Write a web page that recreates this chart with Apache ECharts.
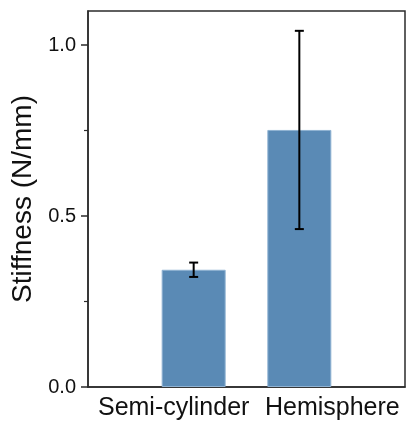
<!DOCTYPE html>
<html>
<head>
<meta charset="utf-8">
<script src="https://cdn.jsdelivr.net/npm/echarts@6/dist/echarts.min.js"></script>
<style>
html,body{margin:0;padding:0;background:#fff;}
#chart{width:408px;height:430px;}
</style>
</head>
<body>
<div id="chart"></div>
<script>
const categories = ['Semi-cylinder', 'Hemisphere'];
const positions = [1, 2];
const means = [0.343, 0.752];
const errors = [0.021, 0.29];
const yTicks = [0, 0.5, 1.0];
const yTitle = 'Stiffness (N/mm)';

const chart = echarts.init(document.getElementById('chart'), null, {renderer: 'canvas'});
const font = 'Liberation Sans, Arial, sans-serif';
const axisColor = '#2b2b2b';

const barData = positions.map((p, i) => [p, means[i]]);
const errData = positions.map((p, i) => [p, means[i] - errors[i], means[i] + errors[i]]);

chart.setOption({
  animation: false,
  backgroundColor: '#fff',
  grid: {left: 88, top: 11, right: 3, bottom: 43, show: true, borderColor: axisColor, borderWidth: 1.5, backgroundColor: 'transparent'},
  xAxis: {
    type: 'value', min: 0, max: 3,
    splitLine: {show: false},
    axisLine: {show: true, lineStyle: {color: axisColor, width: 1.5}},
    axisTick: {show: false},
    axisLabel: {
      customValues: positions,
      margin: 9,
      color: '#111',
      fontFamily: font,
      fontSize: 25,
      formatter: function (v) {
        const i = positions.indexOf(v);
        if (i < 0) return '';
        return '{' + (i === 0 ? 'a' : 'b') + '|' + categories[i] + '}';
      },
      rich: {
        a: {fontFamily: font, fontSize: 25, color: '#111', padding: [0, 40, 0, 0]},
        b: {fontFamily: font, fontSize: 25, color: '#111', padding: [0, 0, 0, 66]}
      }
    }
  },
  yAxis: {
    type: 'value', min: 0, max: 1.1,
    name: yTitle,
    nameLocation: 'middle',
    nameGap: 45,
    nameTextStyle: {fontFamily: font, fontSize: 28, color: '#111'},
    splitLine: {show: false},
    axisLine: {show: true, lineStyle: {color: axisColor, width: 1.5}},
    axisTick: {show: true, customValues: yTicks, inside: false, length: 7, lineStyle: {color: axisColor, width: 1.5}},
    minorTick: {show: true, splitNumber: 2, length: 4, lineStyle: {color: axisColor, width: 1.2}},
    interval: 0.5,
    axisLabel: {
      customValues: yTicks,
      margin: 12,
      color: '#111',
      fontFamily: font,
      fontSize: 20,
      formatter: v => v.toFixed(1)
    }
  },
  series: [
    {
      type: 'bar',
      data: barData,
      barWidth: 64,
      itemStyle: {color: '#5a8ab5', borderColor: '#8fb2d2', borderWidth: 1},
      z: 2
    },
    {
      type: 'custom',
      data: errData,
      z: 5,
      renderItem: function (params, api) {
        const x = api.value(0);
        const lo = api.coord([x, api.value(1)]);
        const hi = api.coord([x, api.value(2)]);
        const hw = 4.5;
        const style = {stroke: '#000', lineWidth: 2};
        return {
          type: 'group',
          children: [
            {type: 'line', shape: {x1: lo[0], y1: lo[1], x2: hi[0], y2: hi[1]}, style: style},
            {type: 'line', shape: {x1: hi[0] - hw, y1: hi[1], x2: hi[0] + hw, y2: hi[1]}, style: style},
            {type: 'line', shape: {x1: lo[0] - hw, y1: lo[1], x2: lo[0] + hw, y2: lo[1]}, style: style}
          ]
        };
      }
    }
  ]
});
</script>
</body>
</html>
